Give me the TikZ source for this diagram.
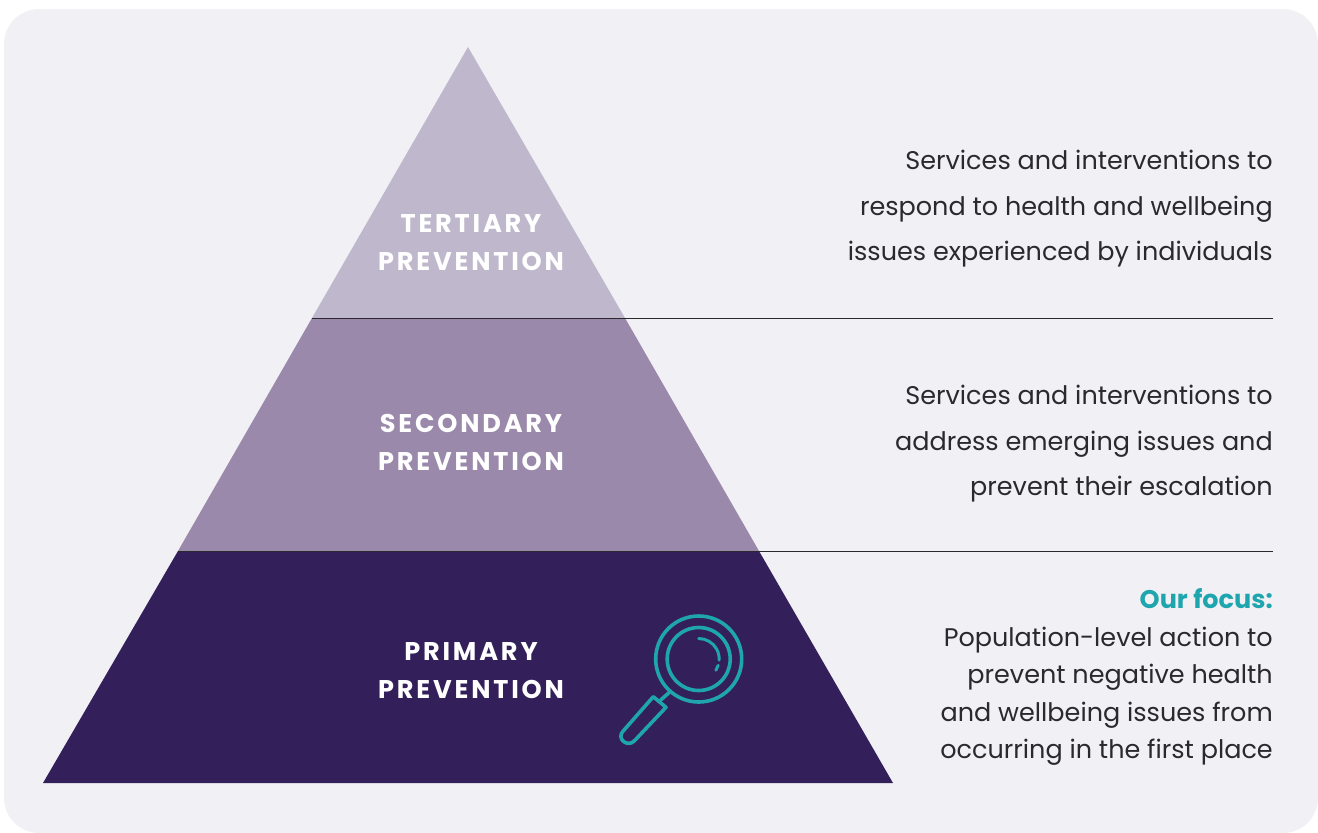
\documentclass[tikz,border=0pt]{standalone}
\usepackage{fontspec}
\setmainfont{Poppins}
\newfontfamily\tierfont[LetterSpace=11]{Poppins}
\usetikzlibrary{
	calc,
	positioning,
}
\definecolor{PanelGray}{HTML}{f1f0f5}
\definecolor{TierLight}{HTML}{bfb8cd}
\definecolor{TierMid}{HTML}{9a89ab}
\definecolor{TierDark}{HTML}{33205a}
\definecolor{FocusTeal}{HTML}{1fa5ad}
\definecolor{BodyInk}{HTML}{2a2a2e}
\newcommand{\focus}[1]{{\color{FocusTeal}\bfseries #1}}

\begin{document}
\begin{tikzpicture}[
		x=1pt, y=-1pt,
		tier/.style = {font=\tierfont\bfseries\fontsize{25.6}{38}\selectfont,
			text=white, align=center},
		blurb/.style = {font=\fontsize{25.5}{45.5}\selectfont,
			text=BodyInk, align=right, anchor=east, inner sep=0pt},
		rule/.style = {draw=BodyInk, line width=1pt},
		glass/.style = {draw=FocusTeal, line width=3.6pt, line cap=round, line join=round},
	]
	\useasboundingbox (0,0) rectangle (1318,833);
	\fill[PanelGray, rounded corners=35pt] (4,9) rectangle (1318,833);
	% pyramid corners
	\coordinate (apex) at (468,47);
	\coordinate (midL) at (312,318);
	\coordinate (midR) at (625,318);
	\coordinate (lowL) at (178,551);
	\coordinate (lowR) at (759,551);
	\coordinate (baseL) at (43,783);
	\coordinate (baseR) at (893,783);
	\coordinate (ruleA) at (1273,318);
	\coordinate (ruleB) at (1273,551);
	\fill[TierLight] (apex) -- (midR) -- (midL) -- cycle;
	\fill[TierMid] (midL) -- (midR) -- (lowR) -- (lowL) -- cycle;
	\fill[TierDark] (lowL) -- (lowR) -- (baseR) -- (baseL) -- cycle;
	\draw[rule] (midL) -- (ruleA);
	\draw[rule] (lowL) -- (ruleB);
	% tier names
	\node[tier] (tertiary) at (471,242.5) {TERTIARY\\PREVENTION};
	\node[tier] (secondary) at (471,442) {SECONDARY\\PREVENTION};
	\node[tier] (primary) at (471,671) {PRIMARY\\PREVENTION};
	% right column
	\node[blurb] (respond) at (1273,209) {Services and interventions to\\
		respond to health and wellbeing\\
		issues experienced by individuals};
	\node[blurb] (address) at (1273,444) {Services and interventions to\\
		address emerging issues and\\
		prevent their escalation};
	\node[blurb, font=\fontsize{25.5}{37.5}\selectfont] (action) at (1273,677) {\focus{Our focus:}\\
		Population-level action to\\
		prevent negative health\\
		and wellbeing issues from\\
		occurring in the first place};
	% magnifier
	\coordinate (lens) at (698.7,659);
	\draw[glass] (lens) circle (43);
	\draw[glass] (lens) circle (31.5);
	\draw[glass, line width=3pt] ($(lens)+(-90:20.5)$) arc (-90:3:20.5);
	\draw[glass, line width=3pt] ($(lens)+(18:20.5)$) arc (18:33:20.5);
	\draw[glass] (660.7,700) -- (669,692.7);
	\draw[glass] (653.3,696.7) -- (666,707.3) -- (634.2,741)
		.. controls (627,748) and (616,738) .. (623.2,731) -- cycle;
\end{tikzpicture}
\end{document}
